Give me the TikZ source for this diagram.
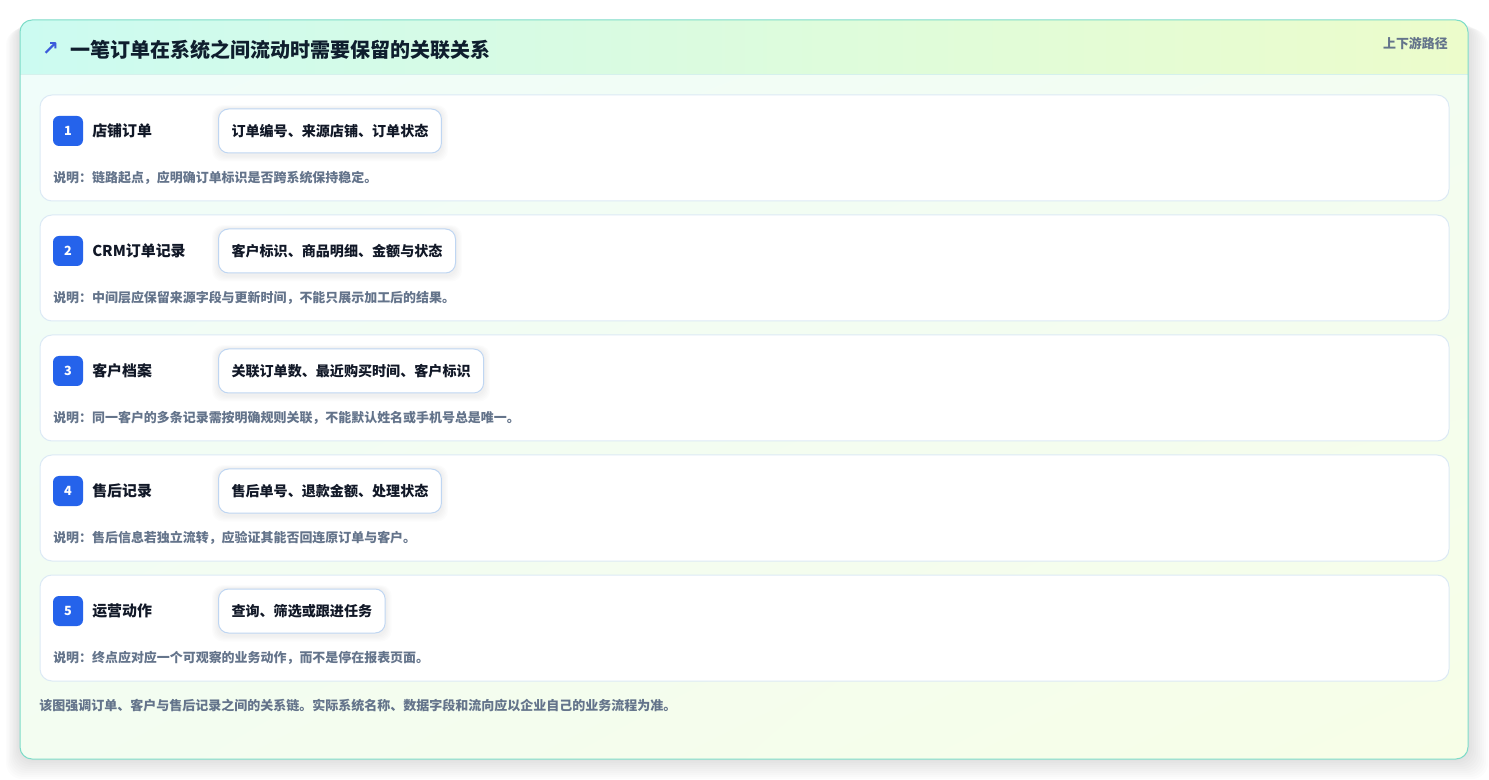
\documentclass[tikz,border=0pt]{standalone}
\usepackage{fontspec}
\setmainfont{Noto Sans CJK SC}
\newfontfamily\dejavu{DejaVu Sans}
\usetikzlibrary{shadings}
\pgfdeclarelayer{bg}
\pgfdeclarelayer{shadowlayer}
\pgfsetlayers{bg,shadowlayer,main}
\definecolor{hdrL}{HTML}{CCFBF1}
\definecolor{hdrR}{HTML}{ECFCCB}
\definecolor{bodyA}{HTML}{F0FDFA}
\definecolor{bodyB}{HTML}{F7FEE7}
\definecolor{bodyM}{HTML}{F3FDF1}
\definecolor{cardline}{HTML}{7DDCC8}
\definecolor{rowline}{HTML}{DCEAF5}
\definecolor{pillline}{HTML}{BFD6F2}
\definecolor{badgeblue}{HTML}{2563EB}
\definecolor{iconblue}{HTML}{3B5BDB}
\definecolor{ink}{HTML}{111827}
\definecolor{titleink}{HTML}{0F1E2E}
\definecolor{muted}{HTML}{64748B}
\definecolor{sepline}{HTML}{D5F1EC}
\tikzset{
  rowbox/.style={draw=rowline, line width=0.75pt, fill=white, rounded corners=9pt},
  badge/.style={fill=badgeblue, rounded corners=4.5pt, minimum width=22.5pt, minimum height=22.5pt, inner sep=0pt, text=white, font=\bfseries\fontsize{9.5}{11}\selectfont},
  rowtitle/.style={anchor=west, inner sep=0pt, text=ink, font=\bfseries\fontsize{11.2}{13}\selectfont},
  pill/.style={anchor=west, draw=pillline, line width=0.75pt, fill=white, rounded corners=7.5pt, inner xsep=9.75pt, inner ysep=0pt, minimum height=33pt, text=ink, font=\bfseries\fontsize{10.55}{12}\selectfont},
  note/.style={anchor=west, inner sep=0pt, text=muted, font=\bfseries\fontsize{9.72}{11}\selectfont},
}
\begin{document}
\begin{tikzpicture}[x=0.75pt,y=-0.75pt]
\useasboundingbox (0,0) rectangle (1489,780);
\begin{pgfonlayer}{bg}
% shadow of card
\foreach \k in {1,...,10}{
  \fill[black, opacity=0.011, rounded corners=12pt] (20-\k*1.4,20+\k*0.9) rectangle (1468+\k*2.0,759+\k*2.0);
}
% card background
\begin{scope}
  \clip[rounded corners=9pt] (20,20) rectangle (1468,759);
  \shade[upper left=bodyA, upper right=bodyM, lower left=bodyM, lower right=bodyB] (20,75) rectangle (1468,759);
  \shade[left color=hdrL, right color=hdrR] (20,20) rectangle (1468,75);
  \draw[sepline, line width=0.75pt] (20,75) -- (1468,75);
\end{scope}
\foreach \i in {1,...,5}{
  \pgfmathsetmacro{\yo}{(\i-1)*120}
  \draw[rowbox] (40,95+\yo) rectangle (1449,201+\yo);
}
\end{pgfonlayer}
\node[draw=cardline, line width=0.75pt, rounded corners=9pt, inner sep=0pt, minimum width=1086pt, minimum height=554.25pt] (card) at (744,389.5) {};
% header
\node[inner sep=0pt, text=iconblue, font=\dejavu\bfseries\fontsize{15}{15}\selectfont] (icon) at (50.5,49.5) {↗};
\node[anchor=west, inner sep=0pt, text=titleink, font=\bfseries\fontsize{15}{18}\selectfont] (title) at (70,50) {一笔订单在系统之间流动时需要保留的关联关系};
\node[anchor=east, inner sep=0pt, text=muted, font=\bfseries\fontsize{9.7}{11}\selectfont] (tag) at (1448,44) {上下游路径};
% rows
\foreach \i/\t/\p/\n in {
  1/店铺订单/订单编号、来源店铺、订单状态/说明：链路起点，应明确订单标识是否跨系统保持稳定。,
  2/CRM订单记录/客户标识、商品明细、金额与状态/说明：中间层应保留来源字段与更新时间，不能只展示加工后的结果。,
  3/客户档案/关联订单数、最近购买时间、客户标识/说明：同一客户的多条记录需按明确规则关联，不能默认姓名或手机号总是唯一。,
  4/售后记录/售后单号、退款金额、处理状态/说明：售后信息若独立流转，应验证其能否回连原订单与客户。,
  5/运营动作/查询、筛选或跟进任务/说明：终点应对应一个可观察的业务动作，而不是停在报表页面。}{
  \pgfmathsetmacro{\yo}{(\i-1)*120}
  \coordinate (row\i) at (744.5,148+\yo);
  \node[badge] (badge\i) at (68,131+\yo) {\i};
  \node[rowtitle] (rtitle\i) at (92,131+\yo) {\t};
  \node[pill] (pill\i) at (218,131+\yo) {\p};
  \begin{pgfonlayer}{shadowlayer}
    \foreach \s in {1,...,5}{
      \fill[black, opacity=0.011, rounded corners=8pt]
        ([xshift=-\s*0.9pt, yshift=-\s*0.9pt-1.5pt]pill\i.south west) rectangle ([xshift=\s*0.9pt, yshift=\s*0.5pt]pill\i.north east);
    }
  \end{pgfonlayer}
  \node[note] (note\i) at (53,178+\yo) {\n};
}
% footer
\node[anchor=west, inner sep=0pt, text=muted, font=\bfseries\fontsize{9.75}{11}\selectfont] (foot) at (39,706) {该图强调订单、客户与售后记录之间的关系链。实际系统名称、数据字段和流向应以企业自己的业务流程为准。};
\end{tikzpicture}
\end{document}
